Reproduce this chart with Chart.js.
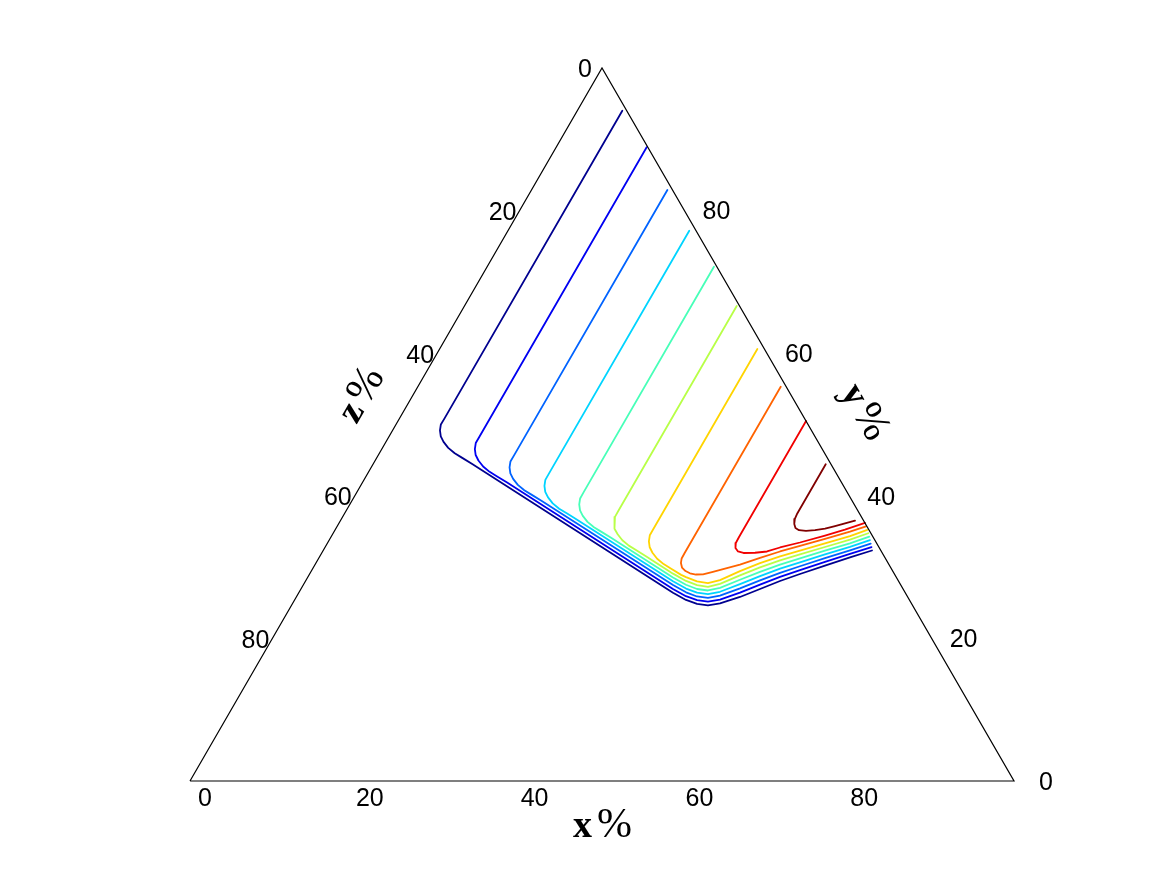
<!DOCTYPE html>
<html><head><meta charset="utf-8">
<script src="https://cdn.jsdelivr.net/npm/chart.js@4.4.0/dist/chart.umd.min.js"></script>
<style>html,body{margin:0;padding:0;background:#fff;overflow:hidden}canvas{display:block}</style>
</head><body>
<canvas id="c" width="1162" height="875"></canvas>
<script>
// Tick labels on each ternary axis (percent)
const tickValues = [0, 20, 40, 60, 80];
const axisLetters = ['x', 'y', 'z'];

// Contour lines, points given as [x%, y%] (z% = 100 - x - y)
const c1 = [[5.46,94.01],[5.46,50.86],[5.44,50.01],[5.75,49.17],[6.27,48.33],[6.99,47.56],[7.98,46.72],[9.14,45.97],[10.38,45.32],[12.02,44.46],[45.41,26.41],[47.50,25.39],[49.12,24.83],[50.54,24.64],[51.87,24.90],[53.84,25.81],[55.71,26.93],[57.58,28.05],[59.51,29.03],[61.95,30.22],[64.42,31.35],[66.60,32.33]];
const c2 = [[10.98,88.88],[10.98,48.25],[10.98,47.40],[11.29,46.56],[11.81,45.72],[12.53,44.95],[13.52,44.11],[14.68,43.36],[15.92,42.71],[17.56,41.85],[45.14,26.94],[47.23,25.92],[48.86,25.36],[50.28,25.16],[51.60,25.45],[53.54,26.41],[55.41,27.53],[57.29,28.63],[59.24,29.58],[61.69,30.74],[64.17,31.85],[66.30,32.81]];
const c3 = [[16.49,82.89],[16.49,45.67],[16.48,44.82],[16.79,43.98],[17.31,43.14],[18.03,42.37],[19.02,41.53],[20.18,40.78],[21.42,40.13],[23.06,39.27],[44.88,27.48],[46.97,26.46],[48.59,25.88],[50.02,25.68],[51.32,25.99],[53.24,27.02],[55.11,28.14],[57.01,29.20],[58.96,30.12],[61.43,31.26],[63.92,32.35],[65.96,33.30]];
const c4 = [[22.00,77.18],[22.00,43.08],[22.01,42.23],[22.32,41.39],[22.84,40.55],[23.56,39.78],[24.55,38.94],[25.71,38.19],[26.95,37.54],[28.59,36.68],[44.61,28.01],[46.70,26.99],[48.33,26.41],[49.76,26.20],[51.05,26.54],[52.94,27.62],[54.81,28.74],[56.72,29.78],[58.69,30.67],[61.17,31.78],[63.67,32.84],[65.63,33.78]];
const c5 = [[27.52,72.13],[27.52,40.48],[27.53,39.63],[27.84,38.79],[28.36,37.95],[29.08,37.18],[30.07,36.34],[31.23,35.59],[32.47,34.94],[34.11,34.08],[44.34,28.54],[46.43,27.52],[48.07,26.93],[49.50,26.72],[50.78,27.09],[52.63,28.22],[54.50,29.34],[56.43,30.35],[58.42,31.22],[60.91,32.30],[63.42,33.34],[65.31,34.26]];
const c6 = [[33.04,66.62],[33.04,37.90],[33.05,37.05],[33.36,36.21],[33.88,35.37],[34.60,34.60],[35.59,33.76],[36.75,33.01],[37.99,32.36],[39.63,31.50],[44.08,29.08],[46.17,28.06],[47.81,27.46],[49.24,27.24],[50.50,27.64],[52.33,28.83],[54.20,29.95],[56.14,30.93],[58.14,31.77],[60.65,32.82],[63.18,33.84],[64.94,34.75]];
const c7 = [[38.56,60.59],[38.56,35.31],[38.57,34.46],[38.88,33.62],[39.40,32.78],[40.12,32.01],[41.11,31.17],[42.27,30.42],[43.51,29.77],[45.15,28.91],[45.90,28.59],[47.54,27.99],[48.98,27.75],[50.23,28.18],[52.03,29.43],[53.90,30.55],[55.86,31.50],[57.87,32.31],[60.39,33.33],[62.93,34.34],[64.58,35.23]];
const c8 = [[44.04,55.30],[44.04,31.98],[44.06,31.21],[44.29,30.58],[44.74,29.94],[45.41,29.45],[46.11,29.13],[46.93,28.96],[47.76,28.99],[48.69,29.31],[50.03,29.80],[51.57,30.35],[53.54,31.28],[55.51,32.19],[57.55,32.96],[60.08,33.97],[62.61,34.97],[64.19,35.71]];
const c9 = [[49.52,50.49],[49.52,34.22],[49.55,33.38],[49.86,32.68],[50.41,32.19],[51.18,31.98],[52.57,32.01],[53.93,32.19],[55.23,32.75],[57.30,33.45],[59.85,34.43],[61.85,35.27],[63.82,36.20]];
const c10 = [[54.94,44.42],[54.94,37.52],[55.03,36.75],[55.31,36.05],[55.74,35.48],[56.32,35.18],[57.21,35.09],[58.26,35.18],[59.36,35.41],[60.40,35.76],[61.42,36.14],[62.45,36.51]];
const contours = [c1, c2, c3, c4, c5, c6, c7, c8, c9, c10];

// Triangle frame corners [x%, y%]
const frame = [[0,0],[100,0],[0,100],[0,0]];

// jet colours, one per contour level
const lineColors = ['rgb(0,0,143)','rgb(0,0,241)','rgb(0,99,255)','rgb(0,212,255)','rgb(71,255,184)',
                    'rgb(184,255,71)','rgb(255,212,0)','rgb(255,99,0)','rgb(241,0,0)','rgb(128,0,0)'];

const H = Math.sqrt(3) / 2;
function toXY(p) { return { x: p[0] + p[1] / 2, y: p[1] * H }; }

const datasets = [{
  data: frame.map(toXY), borderColor: '#000', borderWidth: 1.2, showLine: true,
  pointRadius: 0, tension: 0, fill: false
}].concat(contours.map((c, i) => ({
  data: c.map(toXY), borderColor: lineColors[i], borderWidth: 1.8, showLine: true,
  pointRadius: 0, tension: 0, fill: false, borderJoinStyle: 'round', borderCapStyle: 'round'
})));

function drawTitle(ctx, letter, cx, cy, angle) {
  ctx.save();
  ctx.translate(cx, cy);
  ctx.rotate(angle);
  const fL = 'bold 38px "Liberation Serif", "Times New Roman", serif';
  const fP = '42px "Liberation Serif", "Times New Roman", serif';
  ctx.font = fL; const wl = ctx.measureText(letter).width;
  ctx.font = fP; const wp = ctx.measureText('%').width;
  const gap = 5, tot = wl + gap + wp, x0 = -tot / 2;
  ctx.textAlign = 'left'; ctx.textBaseline = 'alphabetic';
  ctx.font = fL; ctx.fillText(letter, x0, 13);
  ctx.font = fP; ctx.fillText('%', x0 + wl + gap, 13);
  ctx.restore();
}

const ternaryLabels = {
  id: 'ternaryLabels',
  afterDatasetsDraw(chart) {
    const ctx = chart.ctx, sx = chart.scales.x, sy = chart.scales.y;
    const P = t => { const q = toXY(t); return [sx.getPixelForValue(q.x), sy.getPixelForValue(q.y)]; };
    ctx.save();
    ctx.fillStyle = '#000';
    ctx.font = '25px "Liberation Sans", Arial, Helvetica, sans-serif';
    ctx.textAlign = 'center'; ctx.textBaseline = 'middle';
    tickValues.forEach(v => {
      let a = P([v, 0]);        ctx.fillText(String(v), a[0] + 15, a[1] + 18.5);
      a = P([100 - v, v]);      ctx.fillText(String(v), a[0] + 32, a[1] + 2);
      a = P([0, 100 - v]);      ctx.fillText(String(v), a[0] - 17, a[1] + 2.5);
    });
    let m = P([50, 0]);   drawTitle(ctx, axisLetters[0], m[0] + 0.5, m[1] + 43, 0);
    m = P([50, 50]);      drawTitle(ctx, axisLetters[1], m[0] + 58, m[1] - 13.5, Math.PI / 3);
    m = P([0, 50]);       drawTitle(ctx, axisLetters[2], m[0] - 36.5, m[1] - 30.5, -Math.PI / 3);
    ctx.restore();
  }
};

new Chart(document.getElementById('c'), {
  type: 'scatter',
  data: { datasets },
  options: {
    responsive: false, animation: false, events: [],
    layout: { padding: 0 },
    plugins: { legend: { display: false }, tooltip: { enabled: false }, title: { display: false } },
    scales: {
      x: { type: 'linear', display: false, min: -23.058, max: 117.961 },
      y: { type: 'linear', display: false, min: -11.418, max: 94.862 }
    }
  },
  plugins: [ternaryLabels]
});
</script>
</body></html>
